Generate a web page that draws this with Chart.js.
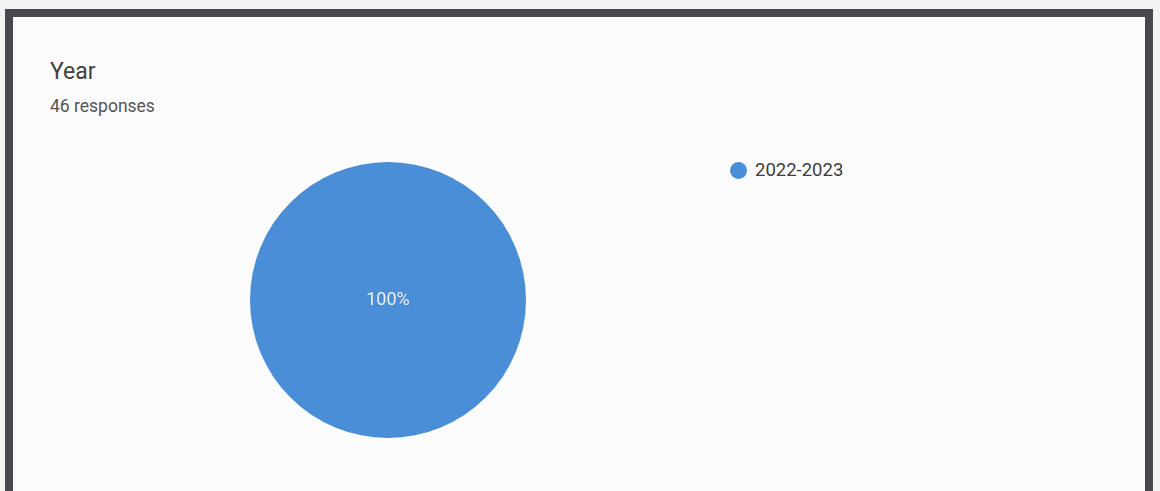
<!DOCTYPE html>
<html>
<head>
<meta charset="utf-8">
<script src="https://cdn.jsdelivr.net/npm/chart.js@4/dist/chart.umd.min.js"></script>
<style>
    html, body { margin: 0; padding: 0; }
    body { width: 1160px; height: 491px; background: #f3f3f3; position: relative; overflow: hidden; font-family: Roboto, Arial, sans-serif; }
    .card { position: absolute; left: 5px; top: 9px; width: 1132px; height: 478px; border: 8px solid #48484e; background: #fbfbfb; }
    .title { position: absolute; left: 37px; top: 41px; font-size: 23px; color: #404040; }
    .sub { position: absolute; left: 37px; top: 79px; font-size: 17.5px; color: #555; }
    .legend { position: absolute; left: 717px; top: 142px; font-size: 18.5px; color: #3d3d3d; display: flex; align-items: center; }
    .legend .dot { width: 17px; height: 17px; border-radius: 50%; margin-right: 8px; }
    #pie { position: absolute; left: 225px; top: 133px; }
</style>
</head>
<body>
<div class="card">
    <div class="title">Year</div>
    <div class="sub">46 responses</div>
    <div class="legend" id="legend"></div>
    <canvas id="pie" width="300" height="300"></canvas>
</div>
<script>
const labels = ['2022-2023'];
const counts = [46];
const colors = ['#4a8ed8'];

// legend
document.getElementById('legend').innerHTML = labels.map((l, i) => `
    <span class="dot" style="background:${colors[i]}"></span><span>${l}</span>
`).join('');

// percentage text in the middle of the pie
const pctLabel = {
    id: 'pctLabel',
    afterDatasetsDraw(chart) {
        const total = counts.reduce((a, b) => a + b, 0);
        const meta = chart.getDatasetMeta(0);
        const ctx = chart.ctx;
        ctx.save();
        ctx.fillStyle = '#eeeeee';
        ctx.font = '18px Roboto, Arial, sans-serif';
        ctx.textAlign = 'center';
        ctx.textBaseline = 'middle';
        meta.data.forEach((arc, i) => {
            const pct = Math.round(counts[i] / total * 100);
            let x, y;
            if (pct === 100) { x = arc.x; y = arc.y; }
            else ({ x, y } = arc.tooltipPosition());
            ctx.fillText(pct + '%', x, y);
        });
        ctx.restore();
    }
};

new Chart(document.getElementById('pie'), {
    type: 'pie',
    data: {
        labels: labels,
        datasets: [{
            data: counts,
            backgroundColor: colors,
            borderWidth: 0
        }]
    },
    options: {
        responsive: false,
        animation: false,
        layout: { padding: 12 },
        plugins: { legend: { display: false }, tooltip: { enabled: false } }
    },
    plugins: [pctLabel]
});
</script>
</body>
</html>
